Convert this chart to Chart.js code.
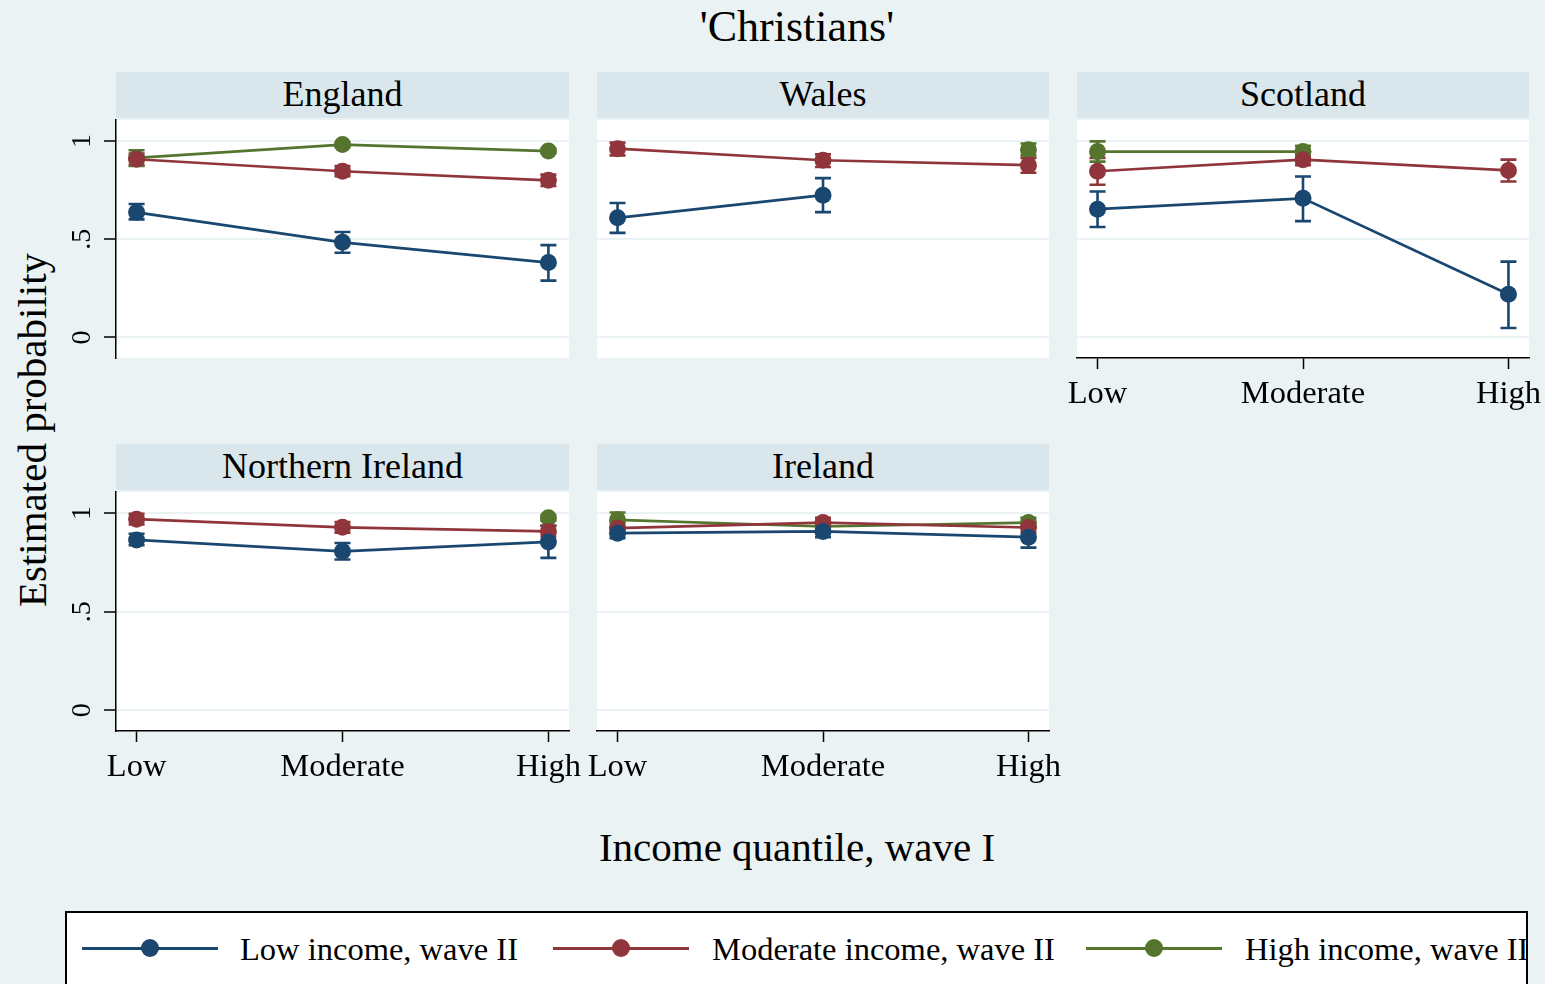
<!DOCTYPE html>
<html>
<head>
<meta charset="utf-8">
<script src="https://cdn.jsdelivr.net/npm/chart.js@4/dist/chart.umd.min.js"></script>
<style>
  body { margin: 0; background: #eaf2f3; width: 1545px; height: 984px; overflow: hidden; position: relative;
         font-family: 'Liberation Serif', 'Times New Roman', serif; color: #000; }
  .abs { position: absolute; }
  .strip { position: absolute; background: #d9e6eb; text-align: center; font-size: 36px; line-height: 44px; height: 46px; }
  canvas { position: absolute; }
  #legend { position: absolute; left: 65px; top: 911px; width: 1463px; height: 90px; border: 2px solid #000;
            background: #fff; box-sizing: border-box; overflow: hidden; }
</style>
</head>
<body>
<div class="abs" style="left:0;width:1594px;top:1px;text-align:center;font-size:44px;">'Christians'</div>
<div class="abs" style="left:0;width:1594px;top:823px;text-align:center;font-size:41px;">Income quantile, wave I</div>
<div class="abs" style="left:32px;top:430px;transform:translate(-50%,-50%) rotate(-90deg);white-space:nowrap;font-size:41px;">Estimated probability</div>
<div id="legend"></div>

<script>
const quantiles = ['Low', 'Moderate', 'High'];
const panelNames = ['England', 'Wales', 'Scotland', 'Northern Ireland', 'Ireland'];
const seriesNames = ['Low income, wave II', 'Moderate income, wave II', 'High income, wave II'];
const seriesColors = ['#1a476f', '#90353b', '#55752f'];
const yTicks = [0, 0.5, 1];
const yTickLabels = ['0', '.5', '1'];

// estimates per series (low, moderate, high income wave II), then CI bounds
const englandEst = [[0.637, 0.484, 0.381], [0.907, 0.846, 0.800], [0.914, 0.982, 0.949]];
const englandLo  = [[0.601, 0.431, 0.289], [0.877, 0.821, 0.771], [0.873, 0.970, 0.938]];
const englandHi  = [[0.679, 0.537, 0.470], [0.936, 0.872, 0.829], [0.953, 0.994, 0.960]];

const walesEst = [[0.609, 0.724, null], [0.961, 0.902, 0.877], [null, null, 0.956]];
const walesLo  = [[0.532, 0.638, null], [0.927, 0.868, 0.838], [null, null, 0.927]];
const walesHi  = [[0.684, 0.811, null], [0.992, 0.932, 0.914], [null, null, 0.987]];

const scotlandEst = [[0.653, 0.708, 0.220], [0.846, 0.905, 0.850], [0.946, 0.946, null]];
const scotlandLo  = [[0.562, 0.592, 0.048], [0.777, 0.877, 0.794], [0.895, 0.917, null]];
const scotlandHi  = [[0.743, 0.819, 0.386], [0.914, 0.932, 0.905], [0.998, 0.975, null]];

const nIrelandEst = [[0.864, 0.806, 0.854], [0.969, 0.928, 0.907], [null, null, 0.976]];
const nIrelandLo  = [[0.837, 0.765, 0.773], [0.942, 0.901, 0.881], [null, null, 0.962]];
const nIrelandHi  = [[0.895, 0.848, 0.935], [0.996, 0.955, 0.936], [null, null, 0.990]];

const irelandEst = [[0.898, 0.907, 0.878], [0.924, 0.952, 0.927], [0.966, 0.932, 0.952]];
const irelandLo  = [[0.873, 0.878, 0.825], [0.898, 0.928, 0.901], [0.928, 0.917, 0.927]];
const irelandHi  = [[0.918, 0.932, 0.932], [0.949, 0.976, 0.952], [1.003, 0.947, 0.976]];

Chart.defaults.font.family = "'Liberation Serif', 'Times New Roman', serif";
Chart.defaults.color = '#000';

const panels = [
    { est: englandEst, lo: englandLo, hi: englandHi, left: 116, top: 120, w: 453, h: 238, yAxis: true, xAxis: false },
    { est: walesEst, lo: walesLo, hi: walesHi, left: 597, top: 120, w: 452, h: 238, yAxis: false, xAxis: false },
    { est: scotlandEst, lo: scotlandLo, hi: scotlandHi, left: 1077, top: 120, w: 452, h: 238, yAxis: false, xAxis: true },
    { est: nIrelandEst, lo: nIrelandLo, hi: nIrelandHi, left: 116, top: 492, w: 453, h: 239, yAxis: true, xAxis: true },
    { est: irelandEst, lo: irelandLo, hi: irelandHi, left: 597, top: 492, w: 452, h: 239, yAxis: false, xAxis: true }
];

const plotBackground = {
    id: 'plotBackground',
    beforeDraw(chart) {
        const { ctx, chartArea: a } = chart;
        ctx.save();
        ctx.fillStyle = '#fff';
        ctx.fillRect(a.left, a.top, a.right - a.left, a.bottom - a.top);
        ctx.restore();
    }
};

// rcap style confidence intervals, drawn under the lines
const errorBars = {
    id: 'errorBars',
    beforeDatasetsDraw(chart) {
        const { ctx, scales: { x, y } } = chart;
        ctx.save();
        chart.data.datasets.forEach(ds => {
            ctx.strokeStyle = ds.borderColor;
            ctx.lineWidth = 2.6;
            ds.lo.forEach((lo, i) => {
                const hi = ds.hi[i];
                if (lo == null || hi == null) return;
                const px = x.getPixelForValue(i);
                const p1 = y.getPixelForValue(lo);
                const p2 = y.getPixelForValue(hi);
                ctx.beginPath();
                ctx.moveTo(px, p1); ctx.lineTo(px, p2);
                ctx.moveTo(px - 8, p1); ctx.lineTo(px + 8, p1);
                ctx.moveTo(px - 8, p2); ctx.lineTo(px + 8, p2);
                ctx.stroke();
            });
        });
        ctx.restore();
    }
};

const PAD_L = 60, PAD_T = 36, PAD_R = 20, PAD_B = 60;

panels.forEach((p, k) => {
    const strip = document.createElement('div');
    strip.className = 'strip';
    strip.style.left = p.left + 'px';
    strip.style.top = (p.top - 48) + 'px';
    strip.style.width = p.w + 'px';
    strip.textContent = panelNames[k];
    document.body.appendChild(strip);

    const canvas = document.createElement('canvas');
    canvas.width = p.w + PAD_L + PAD_R;
    canvas.height = p.h + PAD_T + PAD_B;
    canvas.style.left = (p.left - PAD_L) + 'px';
    canvas.style.top = (p.top - PAD_T) + 'px';
    document.body.appendChild(canvas);

    new Chart(canvas, {
        type: 'line',
        data: {
            datasets: p.est.map((vals, s) => ({
                label: seriesNames[s],
                data: vals.map((v, i) => ({ x: i, y: v })),
                lo: p.lo[s],
                hi: p.hi[s],
                borderColor: seriesColors[s],
                backgroundColor: seriesColors[s],
                pointBackgroundColor: seriesColors[s],
                pointBorderWidth: 0,
                pointRadius: 8.5,
                borderWidth: 2.7,
                spanGaps: false,
                tension: 0
            }))
        },
        options: {
            responsive: false,
            animation: false,
            devicePixelRatio: 1,
            layout: { padding: { left: 0, top: PAD_T, right: PAD_R, bottom: 0 } },
            plugins: { legend: { display: false }, tooltip: { enabled: false } },
            scales: {
                x: {
                    type: 'linear',
                    min: -0.1,
                    max: 2.1,
                    afterBuildTicks: s => { s.ticks = quantiles.map((q, i) => ({ value: i })); },
                    afterFit: s => { s.height = PAD_B; },
                    ticks: {
                        display: p.xAxis,
                        autoSkip: false,
                        maxRotation: 0,
                        padding: 6,
                        font: { size: 32.5 },
                        callback: v => quantiles[v]
                    },
                    grid: {
                        display: p.xAxis,
                        drawOnChartArea: false,
                        drawTicks: p.xAxis,
                        tickLength: 11,
                        tickColor: '#000',
                        tickWidth: 1.5
                    },
                    border: { display: p.xAxis, color: '#000', width: 1.5 }
                },
                y: {
                    min: -0.105,
                    max: 1.107,
                    afterBuildTicks: s => { s.ticks = yTicks.map(v => ({ value: v })); },
                    afterFit: s => { s.width = PAD_L; },
                    ticks: {
                        display: p.yAxis,
                        minRotation: 90,
                        maxRotation: 90,
                        crossAlign: 'center',
                        padding: 11,
                        font: { size: 28 },
                        callback: v => yTickLabels[yTicks.indexOf(v)]
                    },
                    grid: {
                        color: '#eaf2f3',
                        lineWidth: 2,
                        drawTicks: p.yAxis,
                        tickLength: 12,
                        tickColor: '#000',
                        tickWidth: 1.5
                    },
                    border: { display: p.yAxis, color: '#000', width: 1.5 }
                }
            }
        },
        plugins: [plotBackground, errorBars]
    });
});

// legend
const legend = document.getElementById('legend');
const lineStarts = [82, 553, 1086];
const textStarts = [240, 712, 1245];
seriesNames.forEach((name, s) => {
    const ox = 67, oy = 913;
    const line = document.createElement('div');
    line.style.cssText = `position:absolute;left:${lineStarts[s] - ox}px;top:${948 - oy - 1.5}px;width:136px;height:3px;background:${seriesColors[s]}`;
    const dot = document.createElement('div');
    dot.style.cssText = `position:absolute;left:${lineStarts[s] + 68 - 9 - ox}px;top:${948 - oy - 9}px;width:18px;height:18px;border-radius:50%;background:${seriesColors[s]}`;
    const txt = document.createElement('div');
    txt.style.cssText = `position:absolute;left:${textStarts[s] - ox}px;top:${948 - oy - 18}px;font-size:32.5px;line-height:38px;white-space:nowrap`;
    txt.textContent = name;
    legend.append(line, dot, txt);
});
</script>
</body>
</html>
